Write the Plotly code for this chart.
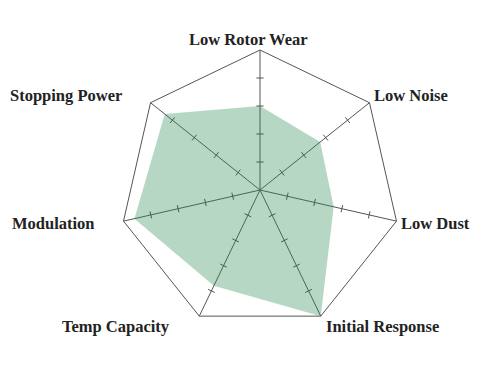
import numpy as np
import plotly.graph_objects as go

categories = ["Low Rotor Wear", "Low Noise", "Low Dust", "Initial Response",
              "Temp Capacity", "Modulation", "Stopping Power"]
values = [3.0, 2.75, 2.7, 5.0, 3.8, 4.6, 4.35]
tick_values = [1, 2, 3, 4]
r_max = 5

fig = go.Figure()

fig.add_trace(go.Scatterpolar(
    r=values + values[:1], theta=categories + categories[:1],
    mode="lines", fill="toself", fillcolor="rgba(46,139,87,0.35)",
    line=dict(width=0, color="rgba(46,139,87,0)"), hoverinfo="skip", showlegend=False,
    subplot="polar"))

# tick marks across each spoke (drawn on an overlaid numeric polar)
n = len(categories)
step = 360.0 / n
half = 0.13
rs, ths = [], []
for i in range(n):
    base = i * step
    for t in tick_values:
        rr = float(np.hypot(t, half))
        d = float(np.degrees(np.arctan2(half, t)))
        rs += [rr, rr, None]
        ths += [base - d, base + d, None]

fig.add_trace(go.Scatterpolar(
    r=rs, theta=ths, thetaunit="degrees", mode="lines",
    line=dict(color="#555555", width=1), hoverinfo="skip", showlegend=False,
    subplot="polar2"))

# category labels placed just outside each vertex
annotations = []
for i, name in enumerate(categories):
    a = np.radians(i * step)
    s, c = float(np.sin(a)), float(np.cos(a))
    if s > 0.1:
        xa, sx = "left", 15
    elif s < -0.1:
        xa, sx = "right", -15
    else:
        xa, sx = "center", 0
    annotations.append(dict(
        x=0.5 + 0.5 * s, y=0.5 + 0.5 * c, xref="paper", yref="paper",
        text=name, showarrow=False, xanchor=xa, yanchor="middle",
        xshift=sx - 12, yshift=11 * c,
        font=dict(family="Liberation Serif", size=16.5, color="#222222",
                  weight="bold")))

dom = dict(x=[0, 1], y=[0, 1])
fig.update_layout(
    width=500, height=369,
    paper_bgcolor="white", plot_bgcolor="white",
    margin=dict(l=112, r=108, t=42, b=47),
    showlegend=False,
    annotations=annotations,
    polar=dict(
        domain=dom,
        bgcolor="white",
        gridshape="linear",
        radialaxis=dict(range=[0, r_max], showgrid=False, showline=False,
                        showticklabels=False, ticks=""),
        angularaxis=dict(type="category", categoryarray=categories,
                         rotation=90, direction="clockwise",
                         showline=True, linecolor="#555555", linewidth=1,
                         showgrid=True, gridcolor="#555555", gridwidth=1,
                         ticks="", showticklabels=False),
    ),
    polar2=dict(
        domain=dom,
        bgcolor="rgba(0,0,0,0)",
        radialaxis=dict(range=[0, r_max], showgrid=False, showline=False,
                        showticklabels=False, ticks=""),
        angularaxis=dict(rotation=90, direction="clockwise",
                         showline=False, showgrid=False, showticklabels=False,
                         ticks=""),
    ),
)

fig.write_html("out.html")
